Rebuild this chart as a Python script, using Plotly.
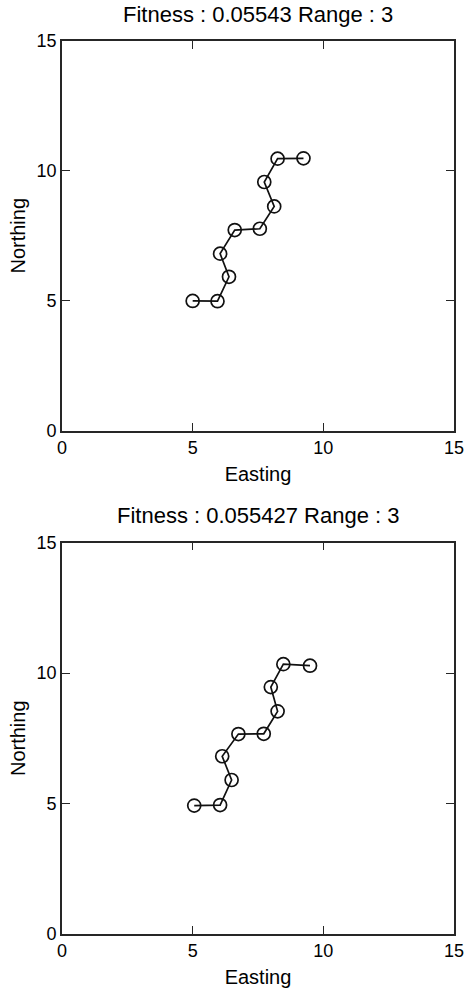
import plotly.graph_objects as go
from plotly.subplots import make_subplots

# Route coordinates for the two runs
top_east = [5.0, 5.95, 6.39, 6.05, 6.61, 7.57, 8.12, 7.74, 8.25, 9.24]
top_north = [4.99, 4.98, 5.92, 6.81, 7.72, 7.77, 8.63, 9.57, 10.47, 10.48]
bottom_east = [5.06, 6.05, 6.49, 6.13, 6.75, 7.72, 8.25, 7.99, 8.47, 9.49]
bottom_north = [4.92, 4.94, 5.90, 6.81, 7.66, 7.67, 8.53, 9.46, 10.34, 10.28]

titles = ["Fitness : 0.05543 Range : 3", "Fitness : 0.055427 Range : 3"]
tick_vals = [0, 5, 10, 15]

FONT = "Liberation Sans, Arial, sans-serif"
INK = "#111111"
AXIS = "#262626"

fig = make_subplots(rows=2, cols=1)

for row, (ex, no) in enumerate([(top_east, top_north), (bottom_east, bottom_north)], start=1):
    fig.add_trace(
        go.Scatter(
            x=ex, y=no, mode="lines+markers",
            line=dict(color=INK, width=1.7),
            marker=dict(symbol="circle-open", size=13, color=INK, line=dict(width=1.7)),
            showlegend=False, hoverinfo="x+y",
        ),
        row=row, col=1,
    )

axis_common = dict(
    range=[0, 15], tickvals=tick_vals, ticks="inside", ticklen=8, tickwidth=1.3,
    tickcolor=AXIS, showline=True, linecolor=AXIS, linewidth=1.6, mirror="allticks",
    showgrid=False, zeroline=False, automargin=False,
    tickfont=dict(family=FONT, size=18, color="#000"),
    title_font=dict(family=FONT, size=20, color="#000"),
)

fig.update_xaxes(**axis_common, title_text="Easting", title_standoff=10)
fig.update_yaxes(**axis_common, title_text="Northing", title_standoff=6)

top_dom = [(934 - 430.5) / 893, 1.0]
bot_dom = [0.0, (934 - 542.5) / 893]
fig.update_layout(
    yaxis=dict(domain=top_dom),
    yaxis2=dict(domain=bot_dom),
)

for i, t in enumerate(titles):
    dom = top_dom if i == 0 else bot_dom
    fig.add_annotation(
        text=t, xref="paper", yref="paper", x=0.5, y=dom[1],
        yshift=27, showarrow=False, xanchor="center", yanchor="middle",
        font=dict(family=FONT, size=22, color="#000"),
    )

fig.update_layout(
    width=466, height=991,
    margin=dict(l=62, r=12, t=41, b=57),
    paper_bgcolor="white", plot_bgcolor="white",
    font=dict(family=FONT, size=18, color="#000"),
)

fig.write_html("out.html")
